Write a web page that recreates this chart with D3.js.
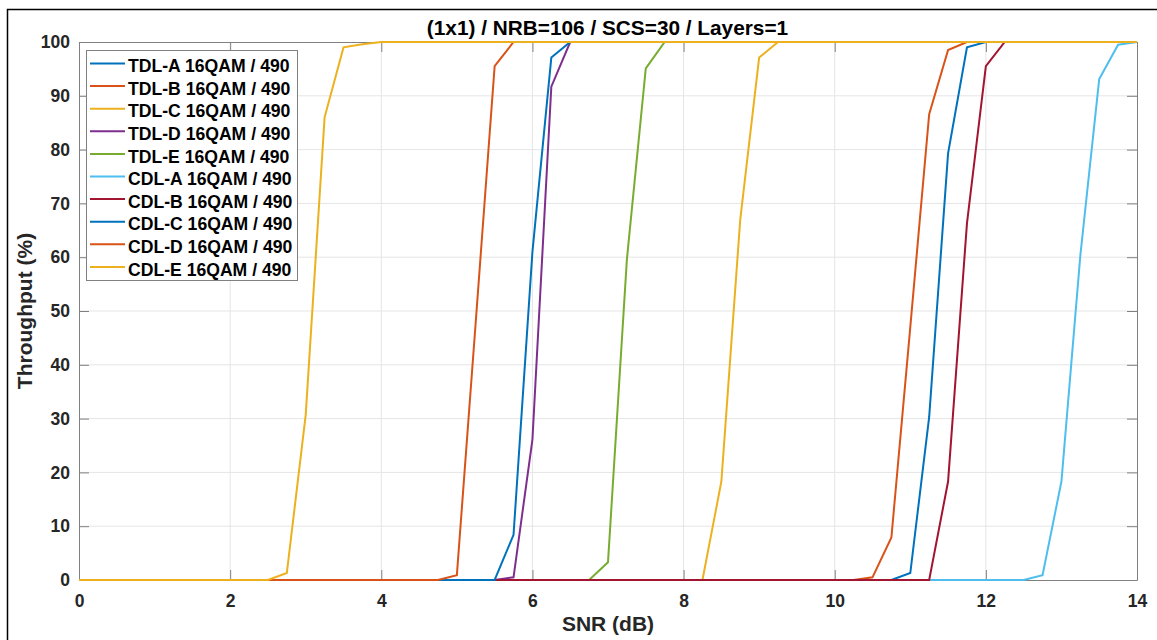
<!DOCTYPE html>
<html>
<head>
<meta charset="utf-8">
<script src="https://d3js.org/d3.v7.min.js"></script>
<style>
  body { margin: 0; background: #fff; }
  svg { display: block; font-family: "Liberation Sans", Arial, sans-serif; }
</style>
</head>
<body>
<div id="chart"></div>
<script>
// SNR grid (dB), 0 .. 14 in 0.25 steps
const snr = d3.range(0, 14.001, 0.25);

// Each series: zero below "start", then the listed throughput values (%), then 100
const seriesNames = [
  "TDL-A 16QAM / 490", "TDL-B 16QAM / 490", "TDL-C 16QAM / 490", "TDL-D 16QAM / 490",
  "TDL-E 16QAM / 490", "CDL-A 16QAM / 490", "CDL-B 16QAM / 490", "CDL-C 16QAM / 490",
  "CDL-D 16QAM / 490", "CDL-E 16QAM / 490"
];
const seriesColors = [
  "#0072BD", "#D95319", "#EDB120", "#7E2F8E", "#77AC30",
  "#4DBEEE", "#A2142F", "#0072BD", "#D95319", "#EDB120"
];
// transition region for each series: first SNR of the listed points, then values
const tdlA = { start: 10.75, vals: [0, 1.3, 30.3, 79.3, 99.0] };
const tdlB = { start: 10.25, vals: [0, 0.5, 7.9, 47.0, 86.6, 98.5] };
const tdlC = { start: 8.25, vals: [0, 18.3, 67.0, 97.1] };
const tdlD = { start: 5.5, vals: [0, 0.5, 26.1, 91.7] };
const tdlE = { start: 6.75, vals: [0, 3.3, 59.6, 95.1] };
const cdlA = { start: 12.5, vals: [0, 0.9, 18.3, 60.3, 93.1, 99.5] };
const cdlB = { start: 11.25, vals: [0, 18.3, 66.3, 95.5] };
const cdlC = { start: 5.5, vals: [0, 8.4, 61.0, 97.1] };
const cdlD = { start: 4.75, vals: [0, 0.9, 48.0, 95.5] };
const cdlE = { start: 2.5, vals: [0, 1.3, 30.7, 86.0, 99.0, 99.6] };

const transitions = [tdlA, tdlB, tdlC, tdlD, tdlE, cdlA, cdlB, cdlC, cdlD, cdlE];

const xTicks = [0, 2, 4, 6, 8, 10, 12, 14];
const yTicks = [0, 10, 20, 30, 40, 50, 60, 70, 80, 90, 100];

function buildValues(t) {
  return snr.map(s => {
    const i = Math.round((s - t.start) / 0.25);
    let v;
    if (i < 0) v = 0;
    else if (i < t.vals.length) v = t.vals[i];
    else v = 100;
    return { snr: s, value: v };
  });
}

const dataReady = seriesNames.map((name, k) => ({
  name: name,
  color: seriesColors[k],
  values: buildValues(transitions[k])
}));

const W = 1157, H = 640;
const margin = { top: 42, right: 20, bottom: 60, left: 79 },
      width = 1137 - margin.left,
      height = 580 - margin.top;

const root = d3.select("#chart").append("svg")
  .attr("width", W)
  .attr("height", H);

// figure frame (only top/left edges visible)
root.append("rect")
  .attr("x", 7.5).attr("y", 9.5)
  .attr("width", W + 20).attr("height", H + 20)
  .attr("fill", "none")
  .attr("stroke", "#000")
  .attr("stroke-width", 1.5);

const svg = root.append("g")
  .attr("transform", "translate(" + margin.left + "," + margin.top + ")");

const x = d3.scaleLinear().domain([0, 14]).range([0, width]);
const y = d3.scaleLinear().domain([0, 100]).range([height, 0]);

// grid
svg.append("g")
  .selectAll("line")
  .data(xTicks.slice(1, -1))
  .enter().append("line")
    .attr("x1", d => x(d)).attr("x2", d => x(d))
    .attr("y1", 0).attr("y2", height)
    .attr("stroke", "#e5e5e5").attr("stroke-width", 1);
svg.append("g")
  .selectAll("line")
  .data(yTicks.slice(1, -1))
  .enter().append("line")
    .attr("x1", 0).attr("x2", width)
    .attr("y1", d => y(d)).attr("y2", d => y(d))
    .attr("stroke", "#e5e5e5").attr("stroke-width", 1);

// axes (MATLAB style: ticks inside, box on)
const tickLen = 10;
function styleAxis(g) {
  g.select(".domain").attr("stroke", "#808080").attr("stroke-width", 1);
  g.selectAll(".tick line").attr("stroke", "#808080");
  g.selectAll("text")
    .attr("fill", "#262626")
    .style("font-size", "17.5px")
    .style("font-weight", "bold");
}

svg.append("g")
  .attr("transform", "translate(0," + height + ")")
  .call(d3.axisBottom(x).tickValues(xTicks).tickSize(-tickLen).tickSizeOuter(0).tickPadding(15))
  .call(styleAxis);
svg.append("g")
  .call(d3.axisTop(x).tickValues(xTicks).tickSize(-tickLen).tickSizeOuter(0).tickFormat(""))
  .call(styleAxis);
svg.append("g")
  .call(d3.axisLeft(y).tickValues(yTicks).tickSize(-tickLen).tickSizeOuter(0).tickPadding(9))
  .call(styleAxis);
svg.append("g")
  .attr("transform", "translate(" + width + ",0)")
  .call(d3.axisRight(y).tickValues(yTicks).tickSize(-tickLen).tickSizeOuter(0).tickFormat(""))
  .call(styleAxis);

// lines
const line = d3.line()
  .x(d => x(d.snr))
  .y(d => y(d.value));

svg.selectAll("myLines")
  .data(dataReady)
  .enter()
  .append("path")
    .attr("d", d => line(d.values))
    .attr("stroke", d => d.color)
    .style("stroke-width", 2)
    .style("stroke-linejoin", "miter")
    .style("fill", "none");

// legend
const lg = svg.append("g").attr("transform", "translate(7,8)");
lg.append("rect")
  .attr("x", 0.5).attr("y", 0.5)
  .attr("width", 211).attr("height", 230)
  .attr("fill", "#fff")
  .attr("stroke", "#808080")
  .attr("stroke-width", 1);
const items = lg.selectAll("myLegend")
  .data(dataReady)
  .enter()
  .append("g")
    .attr("transform", (d, i) => "translate(0," + (13.5 + i * 22.6) + ")");
items.append("line")
  .attr("x1", 4).attr("x2", 39)
  .attr("y1", 0).attr("y2", 0)
  .attr("stroke", d => d.color)
  .attr("stroke-width", 2);
items.append("text")
  .attr("x", 42).attr("y", 8.6)
  .text(d => d.name)
  .attr("fill", "#000")
  .style("font-size", "17.6px")
  .style("font-weight", "bold");

// title and axis labels
root.append("text")
  .attr("x", 607.5).attr("y", 35)
  .attr("text-anchor", "middle")
  .style("font-size", "20.8px").style("font-weight", "bold")
  .attr("fill", "#000")
  .text("(1x1) / NRB=106 / SCS=30 / Layers=1");

root.append("text")
  .attr("x", margin.left + width / 2).attr("y", 631)
  .attr("text-anchor", "middle")
  .style("font-size", "21px").style("font-weight", "bold")
  .attr("fill", "#262626")
  .text("SNR (dB)");

root.append("text")
  .attr("transform", "translate(32," + (margin.top + height / 2) + ") rotate(-90)")
  .attr("text-anchor", "middle")
  .style("font-size", "21px").style("font-weight", "bold")
  .attr("fill", "#262626")
  .text("Throughput (%)");
</script>
</body>
</html>
